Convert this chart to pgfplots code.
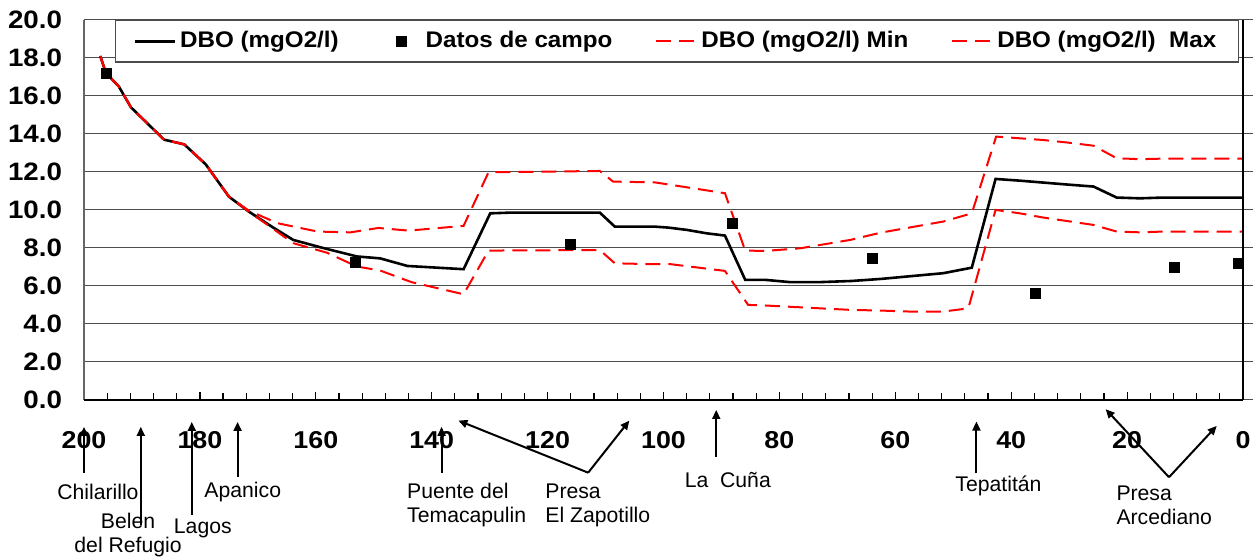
\documentclass[border=0pt]{standalone}
\usepackage{pgfplots}
\pgfplotsset{compat=1.18}
\usepackage{fontspec}
\setmainfont{Liberation Sans}
\newfontfamily\wb[FakeStretch=1.1]{Liberation Sans}
\newfontfamily\wl[FakeStretch=1.07]{Liberation Sans}
\usetikzlibrary{arrows.meta}

\tikzset{
  ann/.style={-{Triangle[length=4.5pt,width=4pt]}, line width=1pt, black},
  lbl/.style={inner sep=0pt, font=\fontsize{10.6}{12}\selectfont},
}

\begin{document}
\begin{tikzpicture}
\begin{axis}[
  scale only axis, width=584.5pt, height=190pt,
  x dir=reverse, xmin=-1.7, xmax=200, ymin=0, ymax=20,
  xtick={0,20,...,200}, minor x tick num=4,
  ytick={0,2,...,20},
  xtick pos=bottom, ytick style={draw=none},
  tick align=inside,
  major tick length=4pt, minor tick length=3.5pt,
  tick style={black, line width=0.6pt},
  ymajorgrids, grid style={black!70, line width=0.5pt},
  axis line style={draw=none},
  clip=false,
  /pgf/number format/assume math mode=true,
  yticklabel style={font=\wb\bfseries\fontsize{12.6}{14}\selectfont, xshift=-7.5pt,
    /pgf/number format/fixed, /pgf/number format/fixed zerofill,
    /pgf/number format/precision=1},
  xticklabel style={font=\wb\bfseries\fontsize{12.2}{14}\selectfont, yshift=-12.5pt},
  legend columns=4,
  legend cell align=left,
  legend style={at={(axis cs:194.65,20)}, anchor=north west,
    draw=black!70, line width=0.6pt, fill=white,
    font=\wl\bfseries\fontsize{11.3}{13}\selectfont,
    inner xsep=9pt, inner ysep=3.5pt,
    /tikz/every even column/.append style={column sep=19.5pt}},
  legend image code/.code={\draw[#1] (0pt,0pt) -- (20pt,0pt);},
]

% DBO modelada
\addplot[black, line width=1.3pt] coordinates {
  (197.2,18.1) (196.2,17.2) (194,16.5) (191.9,15.4) (186.2,13.7) (182.7,13.45)
  (179,12.4) (175,10.7) (171.5,9.9) (167.5,9.1) (163.9,8.42) (158.8,8.0)
  (152.9,7.55) (148.9,7.45) (144.2,7.05) (134.5,6.88) (129.9,9.82) (126.2,9.86)
  (111,9.86) (108.4,9.12) (101.5,9.12) (99.2,9.07) (96,8.95) (92.6,8.77)
  (89.4,8.65) (85.9,6.32) (82.5,6.32) (78.2,6.2) (73,6.2) (67.5,6.26)
  (62.4,6.37) (51.7,6.67) (46.8,6.96) (42.7,11.63) (38.5,11.54) (34.5,11.44)
  (30.1,11.33) (25.8,11.23) (21.8,10.65) (17.8,10.61) (13.8,10.65) (0,10.65)
};
\addlegendentry{DBO (mgO2/l)}

% Datos de campo
\addplot[only marks, mark=square*, mark size=2.5pt, black,
  legend image code/.code={\path[draw=none, fill=none] (0pt,0pt) -- (20pt,0pt);
    \draw[black, mark=square*, mark size=2.5pt] plot coordinates {(10pt,0pt)};}]
  coordinates {
  (196.2,17.2) (153.1,7.23) (116,8.21) (88.1,9.3) (64,7.44) (35.9,5.58) (11.9,6.98) (0.8,7.16)
};
\addlegendentry{Datos de campo}

% Min
\addplot[red, line width=1pt, dash pattern=on 7.5pt off 4pt] coordinates {
  (197.2,18.1) (196.2,17.2) (194,16.5) (191.9,15.4) (186.2,13.7) (182.7,13.45)
  (179,12.4) (175,10.7) (171.5,9.9) (163.9,8.25) (158.1,7.75) (152.9,7.02)
  (148.9,6.81) (143.5,6.2) (134.5,5.56) (130.2,7.86) (111,7.89) (108.4,7.19)
  (101.5,7.14) (99.2,7.16) (89.4,6.79) (85.4,5.0) (82.5,4.97) (73,4.82)
  (67.8,4.74) (62.4,4.7) (57.5,4.65) (51.7,4.65) (47.4,4.82) (42.7,10.0)
  (38.5,9.82) (34.5,9.6) (25.8,9.21) (21.8,8.86) (17.8,8.82) (13.8,8.86) (0,8.86)
};
\addlegendentry{DBO (mgO2/l) Min}

% Max
\addplot[red, line width=1pt, dash pattern=on 7.5pt off 4pt] coordinates {
  (197.2,18.1) (196.2,17.2) (194,16.5) (191.9,15.4) (186.2,13.7) (182.7,13.45)
  (179,12.4) (175,10.7) (171.5,9.95) (166.6,9.3) (159.7,8.86) (154,8.82)
  (149.2,9.05) (144,8.91) (134.5,9.16) (130.2,11.98) (111,12.05) (108.7,11.49)
  (101.5,11.45) (89.4,10.88) (85.9,7.86) (82.5,7.84) (76.4,7.98) (67.8,8.42)
  (62.4,8.81) (51.7,9.39) (46.8,9.82) (42.6,13.86) (38.5,13.77) (34.5,13.68)
  (30.1,13.54) (25.8,13.38) (21.8,12.72) (17.8,12.67) (13.8,12.7) (0,12.7)
};
\addlegendentry{DBO (mgO2/l)\ \ Max}

% axis lines
\draw[black!60, line width=0.6pt] (axis cs:200,0) -- (axis cs:200,20);
\draw[black, line width=1pt] (axis cs:200,0) -- (axis cs:0,0);
\draw[black, line width=1pt] (axis cs:0,0) -- (axis cs:0,20);

% sitios
\draw[ann] (axis cs:200,-3.84) -- (axis cs:200,-1.42);
\node[lbl] at (axis cs:197.6,-4.84) {Chilarillo};
\draw[ann] (axis cs:190.2,-6.58) -- (axis cs:190.2,-1.42);
\node[lbl, align=center] at (axis cs:192.4,-7.1) {Belen\\del Refugio};
\draw[ann] (axis cs:181.4,-6.05) -- (axis cs:181.4,-1.16);
\node[lbl] at (axis cs:179.5,-6.79) {Lagos};
\draw[ann] (axis cs:173.5,-4.05) -- (axis cs:173.5,-1.16);
\node[lbl] at (axis cs:172.6,-4.84) {Apanico};
\draw[ann] (axis cs:138.3,-3.84) -- (axis cs:138.3,-1.42);
\node[lbl, anchor=west, align=left] at (axis cs:144.3,-5.53) {Puente del\\Temacapulin};
\draw[ann] (axis cs:113.0,-3.83) -- (axis cs:135.4,-1.09);
\draw[ann] (axis cs:113.0,-3.83) -- (axis cs:105.9,-1.09);
\node[lbl, anchor=west, align=left] at (axis cs:120.45,-5.53) {Presa\\El Zapotillo};
\draw[ann] (axis cs:90.9,-3.0) -- (axis cs:90.9,-0.53);
\node[lbl] at (axis cs:88.9,-4.21) {La\ \ Cuña};
\draw[ann] (axis cs:46,-3.83) -- (axis cs:46,-1.14);
\node[lbl] at (axis cs:42.2,-4.53) {Tepatitán};
\draw[ann] (axis cs:12.77,-4.07) -- (axis cs:23.7,-0.49);
\draw[ann] (axis cs:12.77,-4.07) -- (axis cs:4.54,-1.37);
\node[lbl, anchor=west, align=left] at (axis cs:21.9,-5.53) {Presa\\Arcediano};

% lienzo
\path (axis cs:214.5,-8.32) rectangle (axis cs:-2.93,21.05);
\end{axis}
\end{tikzpicture}
\end{document}
